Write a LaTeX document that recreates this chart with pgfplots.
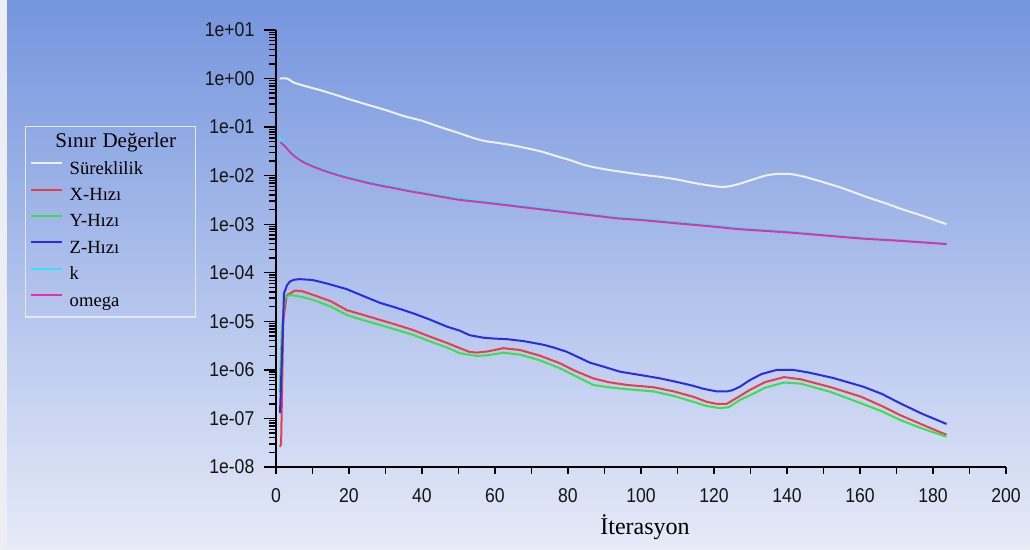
\documentclass[border=0pt]{standalone}
\usepackage{pgfplots}
\pgfplotsset{compat=1.18}
\usepackage{fontspec}
\setmainfont{Liberation Serif}
\newfontfamily\ticksf{Liberation Sans}[FakeStretch=0.88]
\definecolor{bgtop}{RGB}{117,149,222}
\definecolor{bgbot}{RGB}{230,234,248}
\definecolor{frame}{RGB}{236,238,244}
\definecolor{cwhite}{RGB}{238,240,250}
\definecolor{cred}{RGB}{232,62,72}
\definecolor{cgreen}{RGB}{60,222,80}
\definecolor{cblue}{RGB}{40,44,232}
\definecolor{ccyan}{RGB}{60,222,240}
\definecolor{cmag}{RGB}{222,50,170}
\definecolor{legframe}{RGB}{226,232,250}

\pgfplotstableread{
x y
1 1.0
3 1.0
5 0.82
8 0.70
12 0.58
16 0.47
20 0.377
25 0.29
30 0.225
35 0.169
40 0.135
45 0.100
50 0.076
54 0.060
57 0.052
61 0.047
65 0.042
70 0.035
73 0.031
77 0.025
80.5 0.021
84 0.017
87 0.0150
91 0.0132
96 0.0116
100 0.0105
105 0.0095
110 0.0083
114 0.0072
118 0.0064
121.6 0.0059
124 0.0060
127 0.0068
131 0.0085
134 0.0100
137 0.0108
141 0.0108
145 0.0094
149 0.0077
155 0.0056
162 0.0036
167 0.0027
171 0.0021
177 0.0015
183.7 0.00100
}\cont

\pgfplotstableread{
x y
1.1 2.6e-8
1.4 3.0e-8
2.0 1.0e-5
2.9 3.4e-5
5.2 4.3e-5
7 4.2e-5
10.2 3.5e-5
15 2.6e-5
19.4 1.7e-5
24 1.35e-5
28.5 1.07e-5
33 8.5e-6
37.6 6.6e-6
42 4.9e-6
46.8 3.6e-6
50.4 2.8e-6
53 2.35e-6
55 2.27e-6
58 2.4e-6
62.3 2.8e-6
66.8 2.57e-6
72 2.0e-6
77.8 1.37e-6
82 9.5e-7
86.9 6.7e-7
91 5.6e-7
96.1 4.9e-7
103.4 4.4e-7
109 3.6e-7
114.3 2.8e-7
118 2.2e-7
120.7 2.0e-7
123.5 2.0e-7
127.1 2.9e-7
129.9 3.9e-7
134 5.6e-7
139.2 7.1e-7
143.8 6.4e-7
152 4.4e-7
160.3 2.8e-7
166 1.8e-7
171 1.17e-7
177 7.5e-8
183.7 4.6e-8
}\xvel

\pgfplotstableread{
x y
1.0 3.5e-7
1.6 7.0e-6
2.4 3.0e-5
3.8 3.5e-5
7 3.2e-5
10.2 2.76e-5
15 2.0e-5
19.4 1.35e-5
24 1.05e-5
28.5 8.4e-6
33 6.7e-6
37.6 5.25e-6
42 3.9e-6
46.8 2.9e-6
50.4 2.2e-6
55 1.94e-6
58 2.0e-6
62.3 2.26e-6
67 2.05e-6
72 1.6e-6
77.8 1.08e-6
82 7.5e-7
86.9 4.9e-7
91 4.4e-7
96.1 4.0e-7
103.4 3.6e-7
109 2.9e-7
114.3 2.2e-7
118 1.8e-7
121.6 1.63e-7
124 1.7e-7
127.1 2.4e-7
129.9 3.0e-7
134 4.3e-7
139.2 5.5e-7
143.8 5.2e-7
152 3.5e-7
160.3 2.05e-7
166 1.4e-7
171 9.3e-8
177 6.2e-8
183.7 4.2e-8
}\yvel

\pgfplotstableread{
x y
1.1 1.3e-7
2.2 3.8e-5
3 5.5e-5
3.8 6.6e-5
5 7.2e-5
6.6 7.4e-5
10 7.1e-5
14 6.0e-5
19.4 4.6e-5
24 3.3e-5
28.5 2.4e-5
33 1.9e-5
37.6 1.46e-5
42 1.1e-5
46.8 7.8e-6
50.4 6.4e-6
53 5.2e-6
56.8 4.6e-6
60 4.4e-6
63.2 4.3e-6
68 3.9e-6
73.2 3.3e-6
76 2.9e-6
79.6 2.37e-6
83 1.8e-6
86 1.41e-6
90 1.15e-6
94.2 9.2e-7
100 7.8e-7
105.2 6.7e-7
110 5.6e-7
114.3 4.7e-7
117 4.1e-7
120.7 3.6e-7
123.5 3.6e-7
125 3.8e-7
127.1 4.5e-7
129.9 6.2e-7
133 8.2e-7
137.2 1.0e-6
141.7 1.0e-6
146 8.8e-7
152.7 6.8e-7
160.9 4.5e-7
166 3.2e-7
171 2.05e-7
177 1.25e-7
183.7 7.7e-8
}\zvel

\pgfplotstableread{
x y
0.8 0.063
1.5 0.055
2.5 0.043
3.7 0.0335
5 0.0272
7 0.0215
9 0.0180
13 0.0138
18 0.0104
23 0.0084
27 0.0071
32 0.0060
36.5 0.0051
41 0.0044
46 0.0039
50 0.0035
55 0.0031
60 0.0028
65 0.00252
70 0.00227
75 0.00205
80 0.00184
85 0.00166
89 0.00153
94 0.00139
100 0.00129
110 0.00110
120 0.00094
127 0.00083
140 0.00071
150 0.00061
160 0.00053
170 0.00047
183.7 0.00040
}\kres

\pgfplotstableread{
x y
1.2 0.049
2.5 0.040
3.7 0.0315
5 0.0255
7 0.0200
9 0.0168
13 0.0128
18 0.0097
23 0.0078
27 0.0066
32 0.0056
36.5 0.0048
41 0.0042
46 0.0036
50 0.0032
55 0.0029
60 0.00263
65 0.00237
70 0.00214
75 0.00193
80 0.00174
85 0.00157
89 0.00145
94 0.00131
100 0.00122
110 0.00104
120 0.00089
127 0.00079
140 0.00068
150 0.00059
160 0.00051
170 0.00046
183.7 0.00039
}\omres

\begin{document}
\begin{tikzpicture}
\useasboundingbox (0,0) rectangle (515pt,275pt);
\fill[frame] (0,0) rectangle (515pt,275pt);
\shade[top color=bgtop, bottom color=bgbot] (3.5pt,1.5pt) rectangle (515pt,274.5pt);
\begin{axis}[
  at={(138pt,41.5pt)}, anchor=south west,
  scale only axis, width=365pt, height=218.5pt,
  xmin=0, xmax=200, ymode=log, ymin=1e-8, ymax=10,
  axis lines=left, axis line style={-, line width=0.75pt, black},
  tick align=outside,
  major tick length=5.8pt, minor tick length=3.3pt,
  every tick/.style={black, line width=0.7pt},
  every major x tick/.append style={/pgfplots/major tick length=3.3pt},
  xtick={0,20,...,200},
  xticklabels={0,20,40,60,80,100,120,140,160,180,200},
  minor x tick num=1,
  ytick={1e-8,1e-7,1e-6,1e-5,1e-4,1e-3,1e-2,1e-1,1,10},
  yticklabels={1e-08,1e-07,1e-06,1e-05,1e-04,1e-03,1e-02,1e-01,1e+00,1e+01},
  minor ytick={2e-8,3e-8,4e-8,5e-8,6e-8,7e-8,8e-8,9e-8,
    2e-7,3e-7,4e-7,5e-7,6e-7,7e-7,8e-7,9e-7,
    2e-6,3e-6,4e-6,5e-6,6e-6,7e-6,8e-6,9e-6,
    2e-5,3e-5,4e-5,5e-5,6e-5,7e-5,8e-5,9e-5,
    2e-4,3e-4,4e-4,5e-4,6e-4,7e-4,8e-4,9e-4,
    2e-3,3e-3,4e-3,5e-3,6e-3,7e-3,8e-3,9e-3,
    2e-2,3e-2,4e-2,5e-2,6e-2,7e-2,8e-2,9e-2,
    2e-1,3e-1,4e-1,5e-1,6e-1,7e-1,8e-1,9e-1,
    2,3,4,5,6,7,8,9},
  ticklabel style={font=\ticksf\fontsize{10}{12}\selectfont, text=black!92},
  yticklabel style={xshift=-1.5pt},
  xticklabel style={yshift=-1.5pt},
  xlabel={İterasyon},
  xlabel style={at={(axis description cs:0.5,0)}, anchor=base, yshift=-34pt, xshift=2pt, font=\fontsize{12}{14}\selectfont, text=black},
  legend cell align=left,
  legend style={at={(axis description cs:-0.34384,0.78032)}, anchor=north west,
    draw=legframe, line width=0.75pt, fill=none,
    inner xsep=2pt, inner ysep=3.5pt, row sep=4.2pt,
    font=\fontsize{9.3}{11}\selectfont, text=black,
    nodes={inner sep=0pt, text height=7pt, text depth=2pt, text width=61pt},
    /tikz/every odd column/.append style={column sep=3.5pt}},
  legend image code/.code={\draw[#1, line width=1pt] (0pt,3pt) -- (15.5pt,3pt);},
]
\addlegendimage{empty legend}
\addlegendentry{\hspace*{23pt}\makebox[0pt]{\fontsize{10.5}{12}\selectfont Sınır Değerler}}
\addplot[cwhite, line width=1pt, smooth, tension=0.4] table[x=x,y=y] {\cont};
\addlegendentry{Süreklilik}
\addplot[cred, line width=1pt] table[x=x,y=y] {\xvel};
\addlegendentry{X-Hızı}
\addplot[cgreen, line width=1pt] table[x=x,y=y] {\yvel};
\addlegendentry{Y-Hızı}
\addplot[cblue, line width=1pt] table[x=x,y=y] {\zvel};
\addlegendentry{Z-Hızı}
\addplot[ccyan, line width=1pt, smooth, tension=0.5] table[x=x,y=y] {\kres};
\addlegendentry{k}
\addplot[cmag, line width=1pt, smooth, tension=0.5] table[x=x,y=y] {\omres};
\addlegendentry{omega}
\end{axis}
\end{tikzpicture}
\end{document}
